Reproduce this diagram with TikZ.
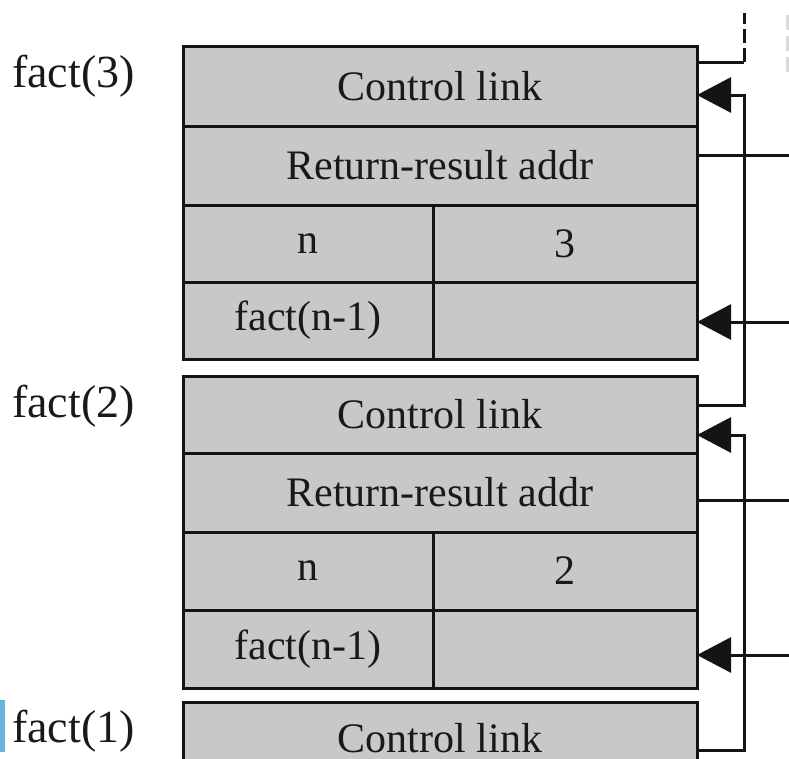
\documentclass[tikz,border=0pt]{standalone}
\usepackage{fontspec}
\setmainfont{Liberation Serif}
\usetikzlibrary{arrows.meta,calc}
\definecolor{cellgray}{RGB}{200,200,203}
\definecolor{edgecol}{RGB}{20,20,20}
\definecolor{bluebar}{RGB}{100,180,222}
\tikzset{
  cell/.style={draw=edgecol,fill=cellgray,line width=3pt,inner sep=0pt,outer sep=0pt,
    font=\fontsize{42}{48}\selectfont,text=black!90},
  full/.style={cell,minimum width=514pt},
  lhalf/.style={cell,minimum width=250pt},
  rhalf/.style={cell,minimum width=264pt},
  flabel/.style={anchor=base west,inner sep=0pt,font=\fontsize{46}{52}\selectfont,text=black!90},
  wire/.style={draw=edgecol,line width=3pt},
  arr/.style={wire,-{Triangle[length=34pt,width=35pt]}},
}
\begin{document}
\begin{tikzpicture}[x=1pt,y=-1pt]
\useasboundingbox (0,0) rectangle (789,758);
\clip (0,0) rectangle (789,758);
% frame fact(3)
\node[full,minimum height=80pt] (cl1) at (440,86) {Control link};
\node[full,minimum height=79pt] (rr1) at (440,165.5) {Return-result addr};
\node[lhalf,minimum height=77pt] (n1) at (308,243.5) {n};
\node[rhalf,minimum height=77pt] (v1) at (565,243.5) {3};
\node[lhalf,minimum height=77pt] (f1) at (308,320.5) {fact(n-1)};
\node[rhalf,minimum height=77pt] (g1) at (565,320.5) {};
% frame fact(2)
\node[full,minimum height=77pt] (cl2) at (440,414.5) {Control link};
\node[full,minimum height=79pt] (rr2) at (440,492.5) {Return-result addr};
\node[lhalf,minimum height=78pt] (n2) at (308,571) {n};
\node[rhalf,minimum height=78pt] (v2) at (565,571) {2};
\node[lhalf,minimum height=78pt] (f2) at (308,649) {fact(n-1)};
\node[rhalf,minimum height=78pt] (g2) at (565,649) {};
% frame fact(1)
\node[full,minimum height=72pt] (cl3) at (440,738) {Control link};
% labels
\node[flabel] (l3) at (12,87) {fact(3)};
\node[flabel] (l2) at (12,417) {fact(2)};
\node[flabel] (l1) at (12,742) {fact(1)};
% connectors
\coordinate (top) at (744,13);
\coordinate (r1) at (800,155);
\coordinate (r2) at (800,322);
\coordinate (r3) at (800,500);
\coordinate (r4) at (800,655);
\draw[wire] ($(cl1.east)+(0,-24)$) -- ($(cl1.east)+(47,-24)$) coordinate (c1);
\draw[wire,dash pattern=on 14pt off 5pt] (c1) -- (top);
\draw[arr] ($(cl2.east)+(0,-9.5)$) -- ++(47,0) |- ($(cl1.east)+(0,9)$);
\draw[arr] ($(cl3.east)+(0,12)$) -- ++(47,0) |- ($(cl2.east)+(0,20.5)$);
\draw[wire] ($(rr1.east)+(0,-10)$) -- (r1 |- {$(rr1.east)+(0,-10)$});
\draw[arr] (r2) -- (r2 -| g1.east);
\draw[wire] ($(rr2.east)+(0,7.5)$) -- (r3 |- {$(rr2.east)+(0,7.5)$});
\draw[arr] (r4) -- (r4 -| g2.east);
% faint cut-off line and edge bar
\draw[black!15,line width=3pt,dash pattern=on 15pt off 6pt] (787,15) -- (787,75);
\fill[bluebar] (0,700) rectangle (5,752);
\end{tikzpicture}
\end{document}
